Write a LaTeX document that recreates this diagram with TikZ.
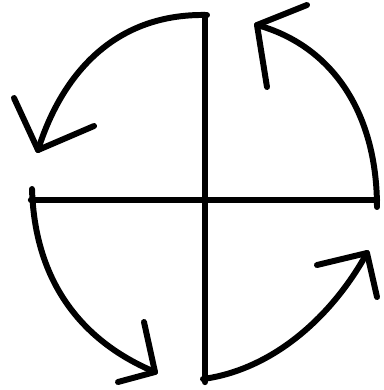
\documentclass[tikz,border=0pt]{standalone}
\usepackage{tikz}

\tikzset{
  stroke/.style={line width=3.6pt},
  sweep/.style={line width=3.4pt},
}

\begin{document}
\begin{tikzpicture}[x=0.02cm, y=-0.02cm, line cap=round, line join=round]
  \useasboundingbox (0,0) rectangle (384,390);
  % the cross
  \coordinate (top) at (205,15);
  \coordinate (bot) at (205,382);
  \coordinate (lft) at (31,200);
  \coordinate (rgt) at (377,200);
  \draw[stroke] (top) -- (bot);
  \draw[stroke] (lft) -- (rgt);
  % the four sweeps, turning left
  \coordinate (s1) at (207,15);  \coordinate (t1) at (38,150);
  \coordinate (s2) at (377,207); \coordinate (t2) at (257,25);
  \coordinate (s3) at (32,189);  \coordinate (t3) at (155,372);
  \coordinate (s4) at (203,379); \coordinate (t4) at (367,253);
  \draw[sweep] (s1) .. controls (110,13) and (60,80) .. (t1);
  \draw[sweep] (s2) .. controls (377,110) and (330,45) .. (t2);
  \draw[sweep] (s3) .. controls (35,290) and (90,345) .. (t3);
  \draw[sweep] (s4) .. controls (270,370) and (330,320) .. (t4);
  % barbs at the tips
  \coordinate (a1) at (14,98);   \coordinate (b1) at (94,126);
  \coordinate (a2) at (307,5);   \coordinate (b2) at (267,87);
  \coordinate (a3) at (144,322); \coordinate (b3) at (118,382);
  \coordinate (a4) at (317,265); \coordinate (b4) at (377,297);
  \foreach \i in {1,...,4}
    \draw[sweep] (a\i) -- (t\i) -- (b\i);
\end{tikzpicture}
\end{document}
